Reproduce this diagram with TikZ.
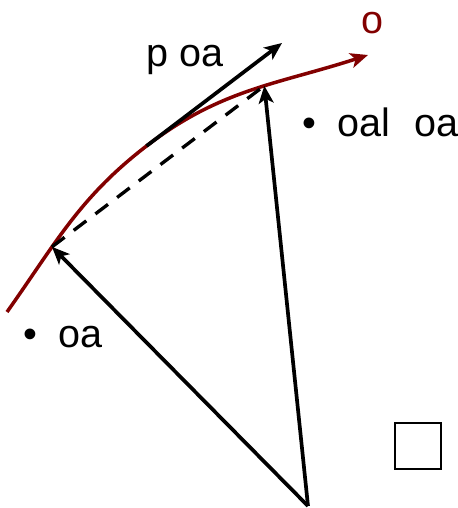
\documentclass[tikz,border=0pt]{standalone}
\usepackage{fontspec}
\setmainfont{Liberation Sans}
\usetikzlibrary{arrows.meta}
\definecolor{pathred}{RGB}{130,0,0}

\begin{document}
\begin{tikzpicture}[every node/.style={font=\fontsize{22.5}{27}\selectfont,inner sep=0pt},
  vec/.style={line width=2.1pt,-{Stealth[length=10pt,width=8.5pt,inset=2.5pt]}}]
\useasboundingbox (0,0) rectangle (9.16,10.16);
\coordinate (O) at (6.16,0.04);
\coordinate (S) at (0.14,3.92);
\coordinate (T) at (2.93,7.24);
\coordinate (E) at (7.36,9.06);
\coordinate (Ttip) at (5.64,9.30);
\draw[vec,pathred,line width=2pt] (S) to[out=54.7,in=217.6] coordinate[pos=0.35] (A) (T)
  to[out=37.6,in=198] coordinate[pos=0.56] (B) (E);
\draw[vec] (T) -- (Ttip);
\draw[line width=1.9pt,dash pattern=on 9pt off 6.5pt] (A) -- (B);
\draw[vec] (O) -- (A);
\draw[vec] (O) -- (B);
\node[pathred] (olabel) at (7.44,9.70) {o};
\node[anchor=base] (plabel) at (3.70,8.82) {p oa};
\node[anchor=base west] (blabel) at (6.04,7.42) {•\hspace{0.55em}oal\hspace{0.6em}oa};
\node[anchor=base west] (alabel) at (0.46,3.20) {•\hspace{0.55em}oa};
\draw[line width=1pt] (7.90,0.78) rectangle (8.82,1.70);
\end{tikzpicture}
\end{document}
